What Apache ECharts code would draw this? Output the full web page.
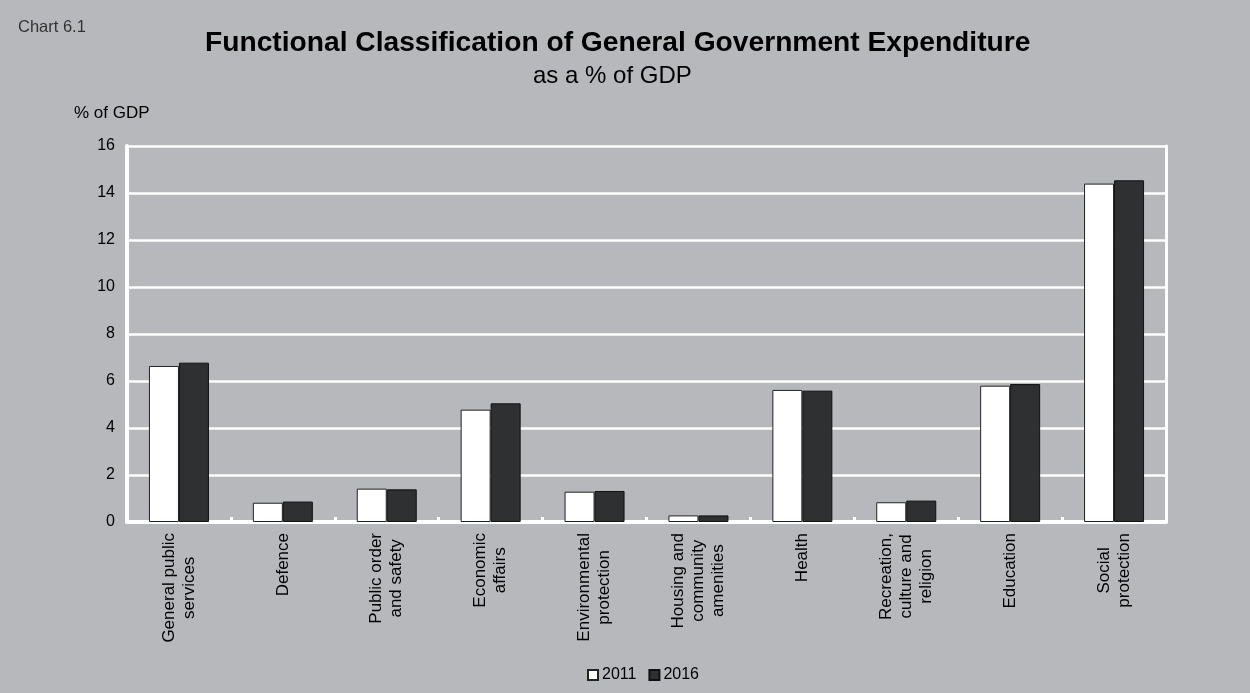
<!DOCTYPE html>
<html>
<head>
<meta charset="utf-8">
<title>Chart 6.1</title>
<script src="https://cdn.jsdelivr.net/npm/echarts@6/dist/echarts.min.js"></script>
<style>
html, body { margin: 0; padding: 0; background: #b7b8bc; }
#main { width: 1250px; height: 693px; }
</style>
</head>
<body>
<div id="main"></div>
<script>
var categories = [
	'General public\nservices',
	'Defence',
	'Public order\nand safety',
	'Economic\naffairs',
	'Environmental\nprotection',
	'Housing and\ncommunity\namenities',
	'Health',
	'Recreation,\nculture and\nreligion',
	'Education',
	'Social\nprotection'
];
var data2011 = [6.64, 0.82, 1.42, 4.78, 1.29, 0.28, 5.62, 0.84, 5.80, 14.40];
var data2016 = [6.78, 0.87, 1.39, 5.05, 1.32, 0.28, 5.59, 0.91, 5.87, 14.54];
var yTicks = { min: 0, max: 16, interval: 2 };

var FONT = 'Liberation Sans, Arial, sans-serif';
var myChart = echarts.init(document.getElementById('main'));

var option = {
	backgroundColor: '#b7b8bc',
	textStyle: { fontFamily: FONT },
	title: [{
		text: 'Chart 6.1',
		left: 13,
		top: 14,
		textStyle: { fontSize: 16.5, fontWeight: 'normal', color: '#333', fontFamily: FONT }
	}, {
		text: 'Functional Classification of General Government Expenditure',
		left: 200,
		top: 24,
		textStyle: { fontSize: 28.2, fontWeight: 'bold', color: '#000', fontFamily: FONT }
	}, {
		text: 'as a % of GDP',
		left: 528,
		top: 59,
		textStyle: { fontSize: 24, fontWeight: 'normal', color: '#000', fontFamily: FONT }
	}, {
		text: '% of GDP',
		left: 69,
		top: 100,
		textStyle: { fontSize: 17, fontWeight: 'normal', color: '#000', fontFamily: FONT }
	}],
	legend: {
		left: 582,
		top: 662,
		icon: 'rect',
		itemWidth: 10,
		itemHeight: 10,
		itemGap: 12,
		textStyle: { fontSize: 16, color: '#000', padding: [0, 0, 0, -1] },
		data: ['2011', '2016']
	},
	grid: {
		left: 127,
		right: 84,
		top: 146,
		bottom: 171,
		containLabel: false
	},
	xAxis: {
		type: 'category',
		data: categories,
		axisLine: { lineStyle: { color: '#fff', width: 4 } },
		axisTick: {
			show: true,
			inside: true,
			length: 5,
			lineStyle: { color: '#fff', width: 3 }
		},
		axisLabel: {
			interval: 0,
			rotate: 90,
			margin: 11,
			color: '#000',
			fontSize: 17,
			lineHeight: 20,
			formatter: function (value) {
				// centre each line within the label block
				return value.split('\n').map(function (l) { return '{c|' + l + '}'; }).join('\n');
			},
			rich: {
				c: { align: 'center', fontSize: 17, lineHeight: 20, color: '#000', fontFamily: FONT }
			}
		}
	},
	yAxis: [{
		type: 'value',
		min: yTicks.min,
		max: yTicks.max,
		interval: yTicks.interval,
		axisLine: { show: true, lineStyle: { color: '#fff', width: 4 } },
		axisTick: { show: false },
		axisLabel: { color: '#000', fontSize: 16, margin: 12 },
		splitLine: { lineStyle: { color: '#fff', width: 2.5 } }
	}, {
		type: 'value',
		position: 'right',
		min: yTicks.min,
		max: yTicks.max,
		interval: yTicks.interval,
		axisLine: { show: true, lineStyle: { color: '#fff', width: 3 } },
		axisTick: { show: false },
		axisLabel: { show: false },
		splitLine: { show: false }
	}],
	series: [{
		name: '2011',
		type: 'bar',
		data: data2011,
		barWidth: 30,
		barGap: '0%',
		itemStyle: { color: '#ffffff', borderColor: '#222', borderWidth: 1 }
	}, {
		name: '2016',
		type: 'bar',
		data: data2016,
		barWidth: 30,
		itemStyle: { color: '#2f3032', borderColor: '#111', borderWidth: 1 }
	}]
};
myChart.setOption(option);
</script>
</body>
</html>
